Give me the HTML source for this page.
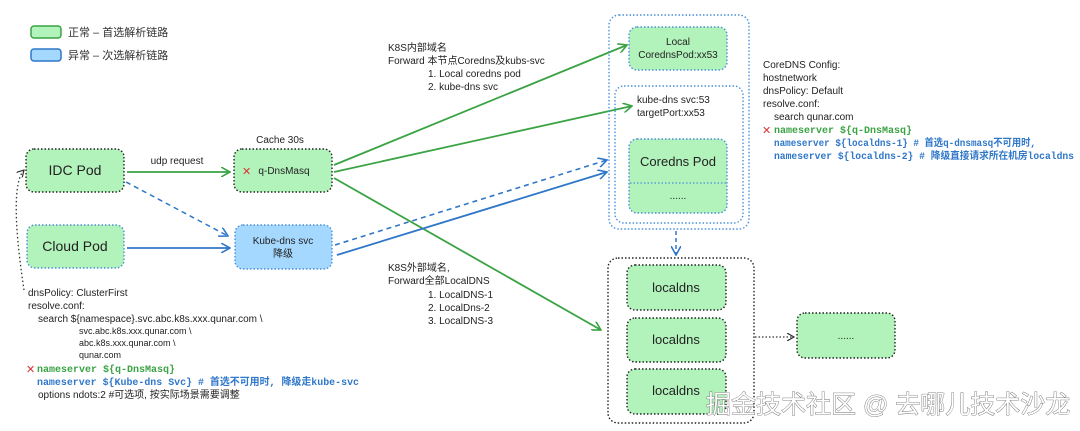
<!DOCTYPE html>
<html><head><meta charset="utf-8"><style>
html,body{margin:0;padding:0;background:#fff;width:1080px;height:431px;overflow:hidden}
svg text{font-family:"Liberation Sans","Noto Sans CJK SC",sans-serif;}
.m{font-family:"Liberation Mono","Noto Sans CJK SC",monospace !important;font-weight:bold}
</style></head><body>
<svg width="1080" height="431" viewBox="0 0 1080 431" xmlns="http://www.w3.org/2000/svg">
<defs>
<marker id="ag" markerWidth="10" markerHeight="10" refX="9" refY="5" orient="auto" markerUnits="userSpaceOnUse"><path d="M0,0 L9,5 L0,10" fill="none" stroke="#3aa344" stroke-width="1.6"/></marker>
<marker id="ab" markerWidth="10" markerHeight="10" refX="9" refY="5" orient="auto" markerUnits="userSpaceOnUse"><path d="M0,0 L9,5 L0,10" fill="none" stroke="#2f77c9" stroke-width="1.6"/></marker>
<marker id="ak" markerWidth="8" markerHeight="8" refX="7" refY="4" orient="auto" markerUnits="userSpaceOnUse"><path d="M0,0 L7,4 L0,8" fill="none" stroke="#333" stroke-width="1.2"/></marker>
</defs>
<rect x="31" y="26" width="30" height="12" rx="3" fill="#b2f2bb" stroke="#3aa344" stroke-width="1.5"/>
<text x="68" y="36" font-size="11" fill="#333">正常 – 首选解析链路</text>
<rect x="31" y="49" width="30" height="12" rx="3" fill="#a5d8ff" stroke="#2f77c9" stroke-width="1.5"/>
<text x="68" y="59" font-size="11" fill="#333">异常 – 次选解析链路</text>

<rect x="26" y="149" width="98" height="43" rx="8" fill="#b2f2bb" stroke="#222" stroke-width="1.4" stroke-dasharray="1.5 2"/>
<text x="75" y="175" font-size="14" text-anchor="middle" fill="#222">IDC Pod</text>
<rect x="27" y="225" width="97" height="43" rx="8" fill="#b2f2bb" stroke="#4a90d9" stroke-width="1.4" stroke-dasharray="1.5 2"/>
<text x="75" y="251" font-size="14" text-anchor="middle" fill="#222">Cloud Pod</text>

<text x="280" y="143" font-size="10" text-anchor="middle" fill="#222">Cache 30s</text>
<rect x="234" y="149" width="98" height="43" rx="8" fill="#b2f2bb" stroke="#222" stroke-width="1.4" stroke-dasharray="1.5 2"/>
<text x="242" y="175" font-size="11" fill="#d33">✕</text>
<text x="284" y="174" font-size="10" text-anchor="middle" fill="#222">q-DnsMasq</text>
<rect x="235" y="225" width="97" height="44" rx="8" fill="#a5d8ff" stroke="#4a90d9" stroke-width="1.4" stroke-dasharray="1.5 2"/>
<text x="283" y="244" font-size="10" text-anchor="middle" fill="#222">Kube-dns svc</text>
<text x="283" y="257" font-size="10" text-anchor="middle" fill="#222">降级</text>

<text x="177" y="164" font-size="10" text-anchor="middle" fill="#222">udp request</text>
<line x1="127" y1="172" x2="230" y2="172" stroke="#3aa344" stroke-width="1.8" marker-end="url(#ag)"/>
<line x1="126" y1="182" x2="228" y2="236" stroke="#2f77c9" stroke-width="1.5" stroke-dasharray="5 4" marker-end="url(#ab)"/>
<line x1="127" y1="248" x2="230" y2="248" stroke="#2f77c9" stroke-width="1.8" marker-end="url(#ab)"/>

<path d="M24,290 C18,250 10,185 24,170" fill="none" stroke="#333" stroke-width="1.3" stroke-dasharray="1.5 2.5" marker-end="url(#ak)"/>

<line x1="334" y1="165" x2="627" y2="45" stroke="#3aa344" stroke-width="1.8" marker-end="url(#ag)"/>
<line x1="334" y1="172" x2="632" y2="106" stroke="#3aa344" stroke-width="1.8" marker-end="url(#ag)"/>
<line x1="334" y1="178" x2="601" y2="330" stroke="#3aa344" stroke-width="1.8" marker-end="url(#ag)"/>
<line x1="335" y1="245" x2="607" y2="160" stroke="#2f77c9" stroke-width="1.6" stroke-dasharray="5 4" marker-end="url(#ab)"/>
<line x1="337" y1="255" x2="607" y2="172" stroke="#2f77c9" stroke-width="1.8" marker-end="url(#ab)"/>

<g font-size="10" fill="#222">
<text x="388" y="51">K8S内部域名</text>
<text x="388" y="64">Forward 本节点Coredns及kubs-svc</text>
<text x="428" y="77">1. Local coredns pod</text>
<text x="428" y="90">2. kube-dns svc</text>
<text x="388" y="271">K8S外部域名,</text>
<text x="388" y="284">Forward全部LocalDNS</text>
<text x="428" y="298">1.  LocalDNS-1</text>
<text x="428" y="311">2. LocalDns-2</text>
<text x="428" y="324">3. LocalDNS-3</text>
</g>

<rect x="609" y="15" width="140" height="214" rx="10" fill="none" stroke="#4a90d9" stroke-width="1.4" stroke-dasharray="1.5 2"/>
<rect x="629" y="27" width="98" height="43" rx="8" fill="#b2f2bb" stroke="#4a90d9" stroke-width="1.4" stroke-dasharray="1.5 2"/>
<text x="678" y="45" font-size="10" text-anchor="middle" fill="#222">Local</text>
<text x="678" y="58" font-size="10" text-anchor="middle" fill="#222">CorednsPod:xx53</text>
<rect x="615" y="86" width="128" height="137" rx="9" fill="none" stroke="#4a90d9" stroke-width="1.4" stroke-dasharray="1.5 2"/>
<text x="637" y="103" font-size="10" fill="#222">kube-dns svc:53</text>
<text x="637" y="116" font-size="10" fill="#222">targetPort:xx53</text>
<rect x="629" y="139" width="98" height="74" rx="8" fill="#b2f2bb" stroke="#4a90d9" stroke-width="1.4" stroke-dasharray="1.5 2"/>
<line x1="630" y1="183" x2="726" y2="183" stroke="#4a90d9" stroke-width="1.2" stroke-dasharray="1.5 2"/>
<text x="678" y="166" font-size="13" text-anchor="middle" fill="#222">Coredns Pod</text>
<text x="678" y="199" font-size="10" text-anchor="middle" fill="#222">......</text>

<line x1="676" y1="231" x2="676" y2="255" stroke="#2f77c9" stroke-width="1.5" stroke-dasharray="4 3" marker-end="url(#ab)"/>

<rect x="608" y="258" width="146" height="165" rx="10" fill="none" stroke="#222" stroke-width="1.4" stroke-dasharray="1.5 2"/>
<rect x="627" y="265" width="99" height="45" rx="8" fill="#b2f2bb" stroke="#222" stroke-width="1.4" stroke-dasharray="1.5 2"/>
<text x="676" y="292" font-size="13" text-anchor="middle" fill="#222">localdns</text>
<rect x="627" y="318" width="99" height="44" rx="8" fill="#b2f2bb" stroke="#222" stroke-width="1.4" stroke-dasharray="1.5 2"/>
<text x="676" y="344" font-size="13" text-anchor="middle" fill="#222">localdns</text>
<rect x="627" y="369" width="99" height="45" rx="8" fill="#b2f2bb" stroke="#222" stroke-width="1.4" stroke-dasharray="1.5 2"/>
<text x="676" y="395" font-size="13" text-anchor="middle" fill="#222">localdns</text>
<rect x="797" y="313" width="98" height="45" rx="8" fill="#b2f2bb" stroke="#222" stroke-width="1.4" stroke-dasharray="1.5 2"/>
<text x="846" y="339" font-size="10" text-anchor="middle" fill="#222">......</text>
<line x1="755" y1="337" x2="794" y2="337" stroke="#333" stroke-width="1.3" stroke-dasharray="1.5 2" marker-end="url(#ak)"/>

<g font-size="10" fill="#222">
<text x="763" y="68">CoreDNS Config:</text>
<text x="763" y="81">hostnetwork</text>
<text x="763" y="94">dnsPolicy: Default</text>
<text x="763" y="107">resolve.conf:</text>
<text x="774" y="120">search qunar.com</text>
</g>
<text x="762" y="134" font-size="11" fill="#d33">✕</text>
<text x="774" y="133" font-size="10" class="m" fill="#3aa344">nameserver ${q-DnsMasq}</text>
<text x="774" y="146" font-size="10" class="m" fill="#2f77c9" textLength="262" lengthAdjust="spacingAndGlyphs">nameserver ${localdns-1}  # 首选q-dnsmasq不可用时,</text>
<text x="774" y="159" font-size="10" class="m" fill="#2f77c9" textLength="300" lengthAdjust="spacingAndGlyphs">nameserver ${localdns-2}  # 降级直接请求所在机房localdns</text>

<g font-size="10" fill="#222">
<text x="28" y="296">dnsPolicy: ClusterFirst</text>
<text x="28" y="309">resolve.conf:</text>
<text x="38" y="322">search ${namespace}.svc.abc.k8s.xxx.qunar.com \</text>
<text x="79" y="334" font-size="9">svc.abc.k8s.xxx.qunar.com \</text>
<text x="79" y="346" font-size="9">abc.k8s.xxx.qunar.com \</text>
<text x="79" y="358" font-size="9">qunar.com</text>
</g>
<text x="26" y="373" font-size="11" fill="#d33">✕</text>
<text x="37" y="372" font-size="10" class="m" fill="#3aa344">nameserver ${q-DnsMasq}</text>
<text x="37" y="385" font-size="10" class="m" fill="#2f77c9" textLength="322" lengthAdjust="spacingAndGlyphs">nameserver ${Kube-dns Svc}  # 首选不可用时, 降级走kube-svc</text>
<text x="38" y="398" font-size="10" fill="#222">options ndots:2 #可选项, 按实际场景需要调整</text>

<text x="706" y="413" font-size="25" fill="#fff" stroke="#666" stroke-width="0.8" style="paint-order:stroke">掘金技术社区 @ 去哪儿技术沙龙</text>
</svg>
</body></html>
